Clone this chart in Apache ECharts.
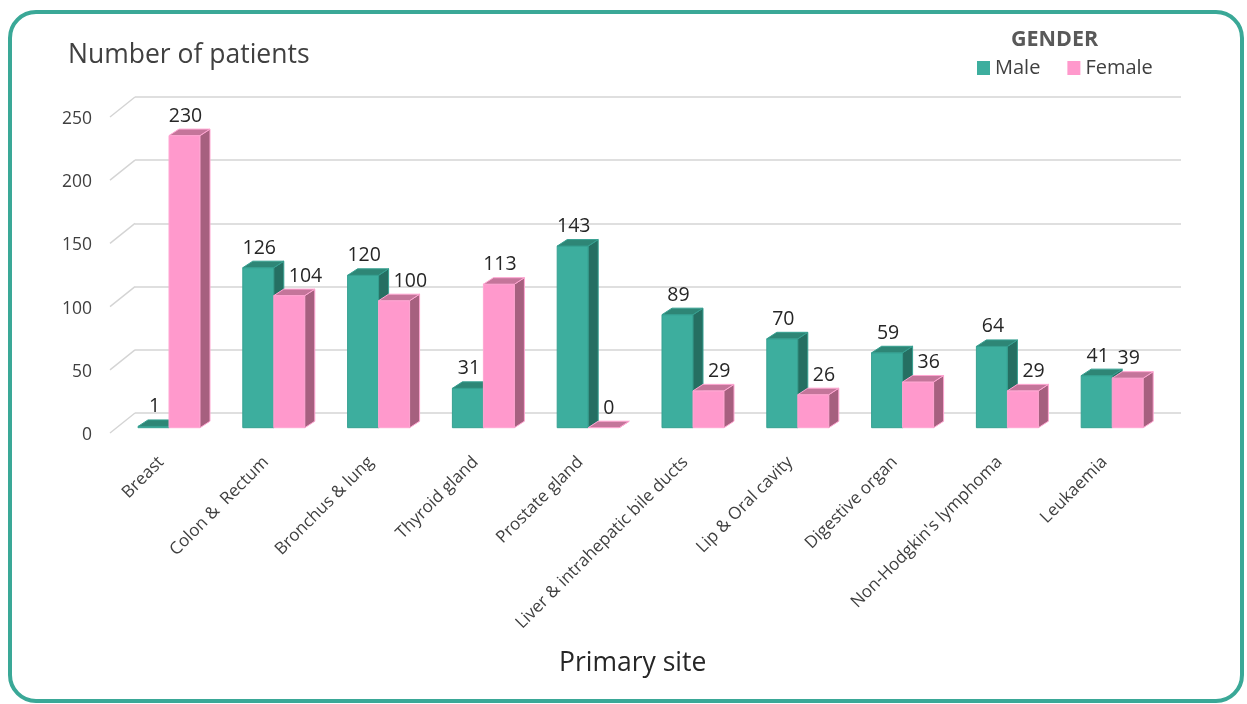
<!DOCTYPE html>
<html>
<head>
<meta charset="utf-8">
<script src="https://cdn.jsdelivr.net/npm/echarts@6/dist/echarts.min.js"></script>
<style>
html,body{margin:0;padding:0;background:#fff;}
#chart{width:1247px;height:704px;}
</style>
</head>
<body>
<div id="chart"></div>
<script>
const categories = ['Breast','Colon &  Rectum','Bronchus & lung','Thyroid gland','Prostate gland','Liver & intrahepatic bile ducts','Lip & Oral cavity','Digestive organ',"Non-Hodgkin's lymphoma",'Leukaemia'];
const maleValues = [1,126,120,31,143,89,70,59,64,41];
const femaleValues = [230,104,100,113,0,29,26,36,29,39];
const yTicks = [0,50,100,150,200,250];

const FONT = "'Open Sans', 'Noto Sans', sans-serif";
const BAR_W = 31, DX = 10, DY = 6.5;

function makeBarRender(side, colors, neighbourValues) {
  return function (params, api) {
    const i = api.value(0), v = api.value(1);
    const top = api.coord([i, v]);
    const base = api.coord([i, 0]);
    const x0 = side === 'left' ? top[0] - BAR_W : top[0];
    const yT = top[1], yB = base[1];
    const children = [];
    if (yB - yT > 0.5) {
      children.push({type:'rect', shape:{x:x0, y:yT, width:BAR_W, height:yB-yT},
        style:{fill:colors.front, stroke:colors.edge, lineWidth:1}});
    }
    children.push({type:'polygon', shape:{points:[[x0+BAR_W,yT],[x0+BAR_W+DX,yT-DY],[x0+BAR_W+DX,yB-DY],[x0+BAR_W,yB]]},
      style:{fill:colors.side, stroke:colors.edge, lineWidth:1}});
    children.push({type:'polygon', shape:{points:[[x0,yT],[x0+DX,yT-DY],[x0+BAR_W+DX,yT-DY],[x0+BAR_W,yT]]},
      style:{fill:colors.top, stroke:colors.edge, lineWidth:1}});
    // label: if the bar on the left stands taller, push the label clear of it
    let lx = x0 + BAR_W/2 + 1, align = 'center';
    if (neighbourValues) {
      const nTop = api.coord([i, neighbourValues[i]])[1];
      if (nTop < yT - 3) { lx = x0 + DX + 5; align = 'left'; }
    }
    children.push({type:'text', x:lx, y:yT - DY - 3,
      style:{text:String(v), fill:'#262626', font:'19.5px ' + FONT, align:align, verticalAlign:'bottom'}});
    return {type:'group', children};
  };
}

const chart = echarts.init(document.getElementById('chart'), null, {renderer:'canvas'});
const option = {
  backgroundColor:'#ffffff',
  animation:false,
  textStyle:{fontFamily:FONT},
  title:[
    {text:'Number of patients', left:63, top:37, textStyle:{fontSize:26.5, fontWeight:'normal', color:'#404040', fontFamily:FONT}},
    {text:'Primary site', left:554, top:645, textStyle:{fontSize:26.5, fontWeight:'normal', color:'#262626', fontFamily:FONT}}
  ],
  graphic:[
    {type:'rect', shape:{x:10, y:12, width:1232, height:689, r:26}, style:{fill:'none', stroke:'#3AA897', lineWidth:4}, z:-10},
    {type:'text', left:1011, top:29, style:{text:'GENDER', fill:'#595959', font:'bold 21.5px ' + FONT}}
  ],
  legend:{
    left:972, top:53, itemWidth:13, itemHeight:14, itemGap:27, icon:'rect',
    textStyle:{fontSize:20, color:'#404040', fontFamily:FONT},
    data:['Male','Female']
  },
  grid:[
    {left:135, right:66, top:97, height:316},
    {left:110, width:1000, top:119, height:316},
    {left:116.6, width:1048, top:110.2, height:317.5}
  ],
  xAxis:[
    {gridIndex:0, type:'value', min:0, max:1, show:false},
    {gridIndex:1, type:'category', data:categories, show:false},
    {gridIndex:2, type:'category', data:categories,
     axisLine:{show:false}, axisTick:{show:false},
     axisLabel:{rotate:45, margin:24, padding:[0,11,0,0], fontSize:17, color:'#404040', fontFamily:FONT, interval:0}}
  ],
  yAxis:[
    {gridIndex:0, type:'value', min:0, max:250, interval:50,
     axisLabel:{show:false}, axisLine:{show:false}, axisTick:{show:false},
     splitLine:{show:true, lineStyle:{color:'#D4D4D4', width:1.5}}},
    {gridIndex:1, type:'value', min:0, max:250, interval:50,
     axisLabel:{show:true, margin:18, fontSize:17.5, color:'#404040', fontFamily:FONT},
     axisLine:{show:false}, axisTick:{show:false}, splitLine:{show:false}},
    {gridIndex:2, type:'value', min:0, max:250, show:false, splitLine:{show:false}}
  ],
  series:[
    {type:'custom', name:'ticks', xAxisIndex:0, yAxisIndex:0, silent:true,
     data:yTicks.map(v => [0, v]),
     renderItem:function(params, api){
       const p = api.coord([0, api.value(1)]);
       return {type:'line', shape:{x1:p[0]-25, y1:p[1]+20, x2:p[0], y2:p[1]},
         style:{stroke:'#D4D4D4', lineWidth:1.5}};
     }},
    {type:'custom', name:'Male', xAxisIndex:2, yAxisIndex:2,
     itemStyle:{color:'#3DAE9E', borderColor:'#2B8A7A'},
     data:maleValues.map((v,i) => [i, v]),
     renderItem:makeBarRender('left', {front:'#3DAE9E', side:'#256F62', top:'#2E8676', edge:'#36A091'}, null)},
    {type:'custom', name:'Female', xAxisIndex:2, yAxisIndex:2,
     itemStyle:{color:'#FF99CC', borderColor:'#F08CBE'},
     data:femaleValues.map((v,i) => [i, v]),
     renderItem:makeBarRender('right', {front:'#FF99CC', side:'#A6607F', top:'#C4759A', edge:'#FFA6D2'}, maleValues)}
  ]
};
chart.setOption(option);
</script>
</body>
</html>
